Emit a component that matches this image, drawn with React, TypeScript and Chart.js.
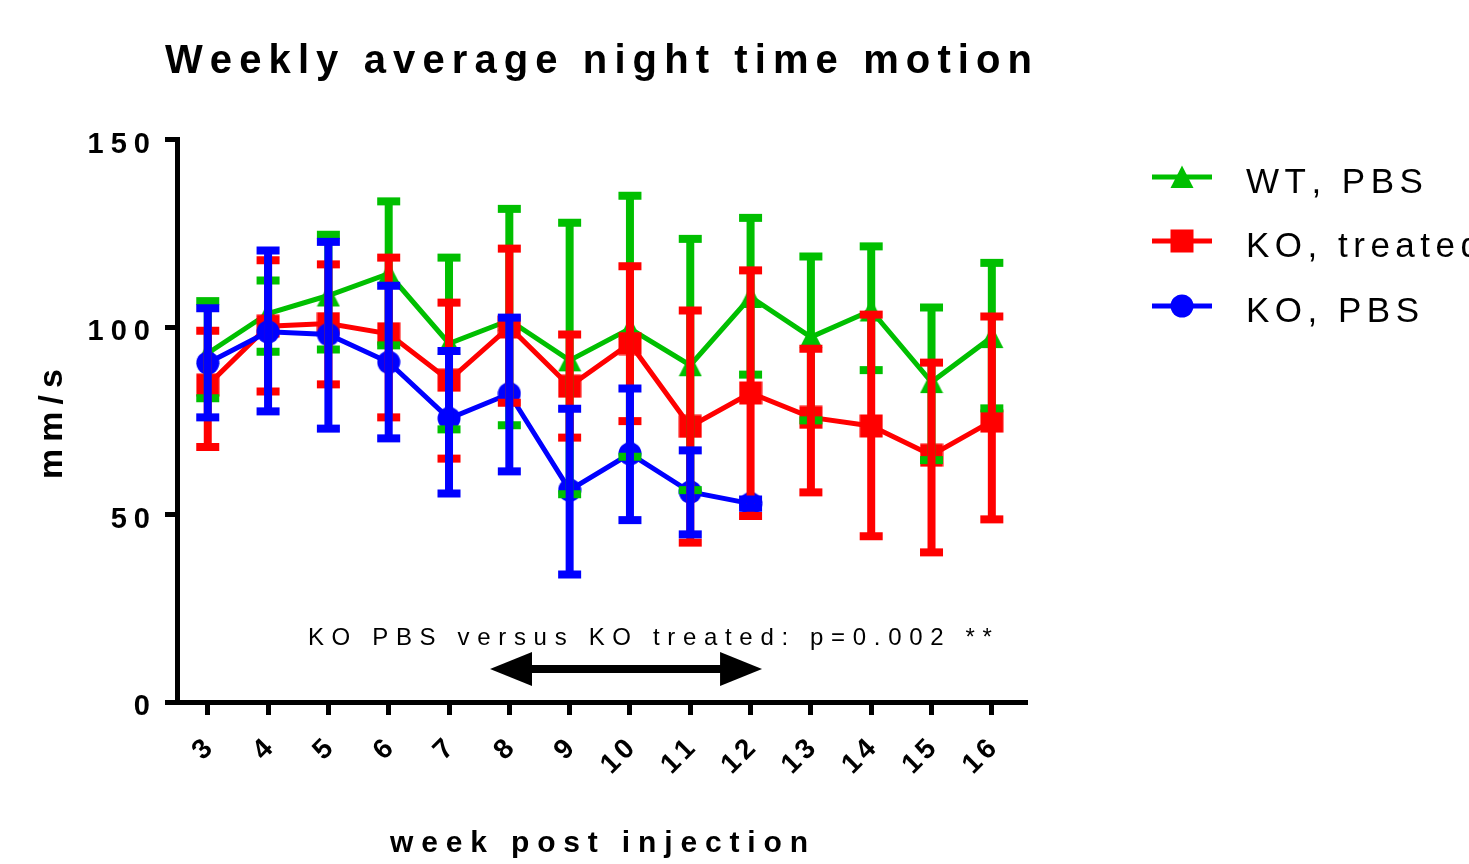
import React, { useEffect, useRef } from "react";
import { Chart, registerables } from "chart.js";

Chart.register(...registerables);

// ---------------- data ----------------
const weeks = [3, 4, 5, 6, 7, 8, 9, 10, 11, 12, 13, 14, 15, 16];
const yTicks = [0, 50, 100, 150];

const wtMean = [93, 103.6, 108.4, 114.2, 95.6, 101.8, 91.1, 99.6, 89.8, 108, 97.3, 104.4, 85.3, 97.3];
const wtUpper = [106.9, 112.4, 124.6, 133.5, 118.5, 131.5, 127.8, 135, 123.5, 129.1, 118.8, 121.5, 105.2, 117.1];
const wtLower = [81, 93.4, 94, 95.1, 72.7, 73.8, 55.4, 65.4, 56.5, 87.3, 75.1, 88.5, 64.5, 78.3];

const koTreatedMean = [84.5, 100.2, 100.9, 98.2, 85.8, 100, 84.2, 95.6, 73.5, 82.4, 75.9, 73.6, 65.8, 74.9];
const koTreatedUpper = [99, 117.8, 116.7, 118.5, 106.5, 120.9, 98, 116.2, 104.4, 115.1, 94.2, 103.3, 90.5, 102.8];
const koTreatedLower = [68, 82.8, 84.7, 75.9, 64.9, 79.8, 70.5, 74.9, 42.5, 49.6, 55.9, 44.2, 39.9, 48.7];

const koPbsWeeks = [3, 4, 5, 6, 7, 8, 9, 10, 11, 12];
const koPbsMean = [90.4, 98.7, 98, 90.6, 75.6, 82.2, 56.5, 66.2, 56, 52.9];
const koPbsUpper = [105, 120.4, 122.7, 111, 93.6, 102.5, 78.2, 83.6, 67.1, 54];
const koPbsLower = [75.9, 77.5, 72.9, 70.3, 55.6, 61.5, 34, 48.5, 44.7, 51.8];

const seriesNames = ["WT, PBS", "KO, treated", "KO, PBS"];
const titleText = "Weekly average night time motion";
const xTitle = "week post injection";
const yTitle = "mm/s";
const annotationText = "KO PBS versus KO treated: p=0.002 **";
const arrowFromWeek = 7.68;
const arrowToWeek = 12.19;
const arrowValue = 8.8;
const annotationWeek = 4.66;
const annotationValue = 15.2;

// ---------------- styles ----------------
const GREEN = "rgb(0,191,0)";
const RED = "#ff0000";
const BLUE = "#0000ff";
const FONT = '"Liberation Sans", Arial, sans-serif';

function makeMarker(kind: string, color: string): HTMLCanvasElement {
  const s = 24;
  const c = document.createElement("canvas");
  c.width = s;
  c.height = s;
  const g = c.getContext("2d")!;
  g.fillStyle = color;
  if (kind === "tri") {
    g.beginPath();
    g.moveTo(12, 0.5);
    g.lineTo(23.5, 23);
    g.lineTo(0.5, 23);
    g.closePath();
    g.fill();
  } else if (kind === "sq") {
    g.fillRect(0.5, 0.5, 23, 23);
  } else {
    g.beginPath();
    g.arc(12, 12, 11.5, 0, Math.PI * 2);
    g.fill();
  }
  return c;
}

function spaced(
  ctx: CanvasRenderingContext2D,
  text: string,
  x: number,
  y: number,
  font: string,
  align: "left" | "right" | "center",
  spacing: number | null,
  width?: number
) {
  ctx.font = font;
  ctx.textAlign = "left";
  ctx.textBaseline = "alphabetic";
  const chars = [...text];
  const ws = chars.map((c) => ctx.measureText(c).width);
  const sum = ws.reduce((a, b) => a + b, 0);
  const n = chars.length;
  const sp = width != null ? (width - sum) / Math.max(1, n - 1) : spacing || 0;
  const total = sum + sp * (n - 1);
  let cx = align === "left" ? x : align === "right" ? x - total : x - total / 2;
  chars.forEach((c, i) => {
    ctx.fillText(c, cx, y);
    cx += ws[i] + sp;
  });
}

export default function App() {
  const ref = useRef<HTMLCanvasElement | null>(null);

  useEffect(() => {
    if (!ref.current) return;
    const triImg = makeMarker("tri", GREEN);
    const sqImg = makeMarker("sq", RED);
    const ciImg = makeMarker("ci", BLUE);
    const markers = [triImg, sqImg, ciImg];
    const colors = [GREEN, RED, BLUE];

    const errSeries = [
      { color: GREEN, xs: weeks, up: wtUpper, lo: wtLower },
      { color: RED, xs: weeks, up: koTreatedUpper, lo: koTreatedLower },
      { color: BLUE, xs: koPbsWeeks, up: koPbsUpper, lo: koPbsLower },
    ];

    const customPlugin = {
      id: "custom",
      afterDatasetsDraw(chart: any) {
        const ctx: CanvasRenderingContext2D = chart.ctx;
        const xs = chart.scales.x;
        const ys = chart.scales.y;
        ctx.save();
        errSeries.forEach((s) => {
          ctx.fillStyle = s.color;
          s.xs.forEach((w, i) => {
            if (s.up[i] == null || s.lo[i] == null) return;
            const x = xs.getPixelForValue(w);
            const yu = ys.getPixelForValue(s.up[i]);
            const yl = ys.getPixelForValue(s.lo[i]);
            ctx.fillRect(x - 4, yu, 8, yl - yu);
            ctx.fillRect(x - 11.5, yu - 4, 23, 8);
            ctx.fillRect(x - 11.5, yl - 4, 23, 8);
          });
        });
        ctx.restore();
      },
      afterDraw(chart: any) {
        const ctx: CanvasRenderingContext2D = chart.ctx;
        const xs = chart.scales.x;
        const ys = chart.scales.y;
        ctx.save();
        ctx.fillStyle = "#000";

        // title
        spaced(ctx, titleText, 165, 73, `bold 40px ${FONT}`, "left", null, 867);

        // y tick labels
        ys.ticks.forEach((t: any) => {
          const y = ys.getPixelForValue(t.value);
          spaced(ctx, String(t.value), 150, y + 3 + 10.4, `bold 29px ${FONT}`, "right", 7);
        });

        // x tick labels (rotated)
        xs.ticks.forEach((t: any) => {
          const x = xs.getPixelForValue(t.value);
          ctx.save();
          ctx.translate(x - 1, 743);
          ctx.rotate(-Math.PI / 4);
          spaced(ctx, String(t.value), 0, 10, `bold 28px ${FONT}`, "right", 4);
          ctx.restore();
        });

        // axis titles
        spaced(ctx, xTitle, 390, 852, `bold 30px ${FONT}`, "left", null, 418);
        ctx.save();
        ctx.translate(62, 424);
        ctx.rotate(-Math.PI / 2);
        spaced(ctx, yTitle, 0, 0, `bold 34px ${FONT}`, "center", null, 110);
        ctx.restore();

        // annotation
        spaced(
          ctx,
          annotationText,
          xs.getPixelForValue(annotationWeek),
          ys.getPixelForValue(annotationValue),
          `24px ${FONT}`,
          "left",
          null,
          684
        );
        const ax1 = xs.getPixelForValue(arrowFromWeek);
        const ax2 = xs.getPixelForValue(arrowToWeek);
        const ay = ys.getPixelForValue(arrowValue);
        const head = 42;
        const half = 17;
        ctx.fillRect(ax1 + head - 1, ay - 4, ax2 - ax1 - 2 * head + 2, 8);
        ctx.beginPath();
        ctx.moveTo(ax1, ay);
        ctx.lineTo(ax1 + head, ay - half);
        ctx.lineTo(ax1 + head, ay + half);
        ctx.closePath();
        ctx.fill();
        ctx.beginPath();
        ctx.moveTo(ax2, ay);
        ctx.lineTo(ax2 - head, ay - half);
        ctx.lineTo(ax2 - head, ay + half);
        ctx.closePath();
        ctx.fill();

        // legend
        const rows = [177, 241, 306];
        seriesNames.forEach((name, i) => {
          const y = rows[i];
          ctx.fillStyle = colors[i];
          ctx.fillRect(1152, y - 2.5, 60, 5);
          ctx.drawImage(markers[i], 1182 - 12, y - 12);
          ctx.fillStyle = "#000";
          spaced(ctx, name, 1246, y + 16, `35px ${FONT}`, "left", 5.5);
        });

        ctx.restore();
      },
    };

    const chart = new Chart(ref.current, {
      type: "line",
      data: {
        datasets: [
          {
            label: seriesNames[0],
            data: weeks.map((w, i) => ({ x: w, y: wtMean[i] })),
            borderColor: GREEN,
            backgroundColor: GREEN,
            borderWidth: 5,
            pointStyle: triImg as any,
            pointRadius: 12,
            tension: 0,
            order: 2,
          },
          {
            label: seriesNames[1],
            data: weeks.map((w, i) => ({ x: w, y: koTreatedMean[i] })),
            borderColor: RED,
            backgroundColor: RED,
            borderWidth: 5,
            pointStyle: sqImg as any,
            pointRadius: 12,
            tension: 0,
            order: 1,
          },
          {
            label: seriesNames[2],
            data: koPbsWeeks.map((w, i) => ({ x: w, y: koPbsMean[i] })),
            borderColor: BLUE,
            backgroundColor: BLUE,
            borderWidth: 5,
            pointStyle: ciImg as any,
            pointRadius: 12,
            tension: 0,
            order: 0,
          },
        ],
      },
      options: {
        responsive: false,
        animation: false,
        events: [],
        layout: { padding: { left: 165, top: 139.5, right: 444, bottom: 149 } },
        plugins: { legend: { display: false }, tooltip: { enabled: false }, title: { display: false } },
        scales: {
          x: {
            type: "linear",
            min: 2.49,
            max: 16.55,
            afterBuildTicks: (scale: any) => {
              scale.ticks = weeks.map((v) => ({ value: v }));
            },
            ticks: { display: false },
            grid: { display: true, drawOnChartArea: false, drawTicks: true, tickLength: 13, lineWidth: 5, color: "#000" },
            border: { display: true, width: 5, color: "#000" },
          },
          y: {
            type: "linear",
            min: 0,
            max: 150,
            afterBuildTicks: (scale: any) => {
              scale.ticks = yTicks.map((v) => ({ value: v }));
            },
            ticks: { display: false },
            grid: { display: true, drawOnChartArea: false, drawTicks: true, tickLength: 12, lineWidth: 5, color: "#000" },
            border: { display: true, width: 5, color: "#000" },
          },
        },
      },
      plugins: [customPlugin],
    });

    return () => chart.destroy();
  }, []);

  return (
    <div style={{ position: "absolute", left: 0, top: 0, width: 1469, height: 864, background: "#fff" }}>
      <canvas ref={ref} width={1469} height={864} style={{ display: "block" }} />
    </div>
  );
}
